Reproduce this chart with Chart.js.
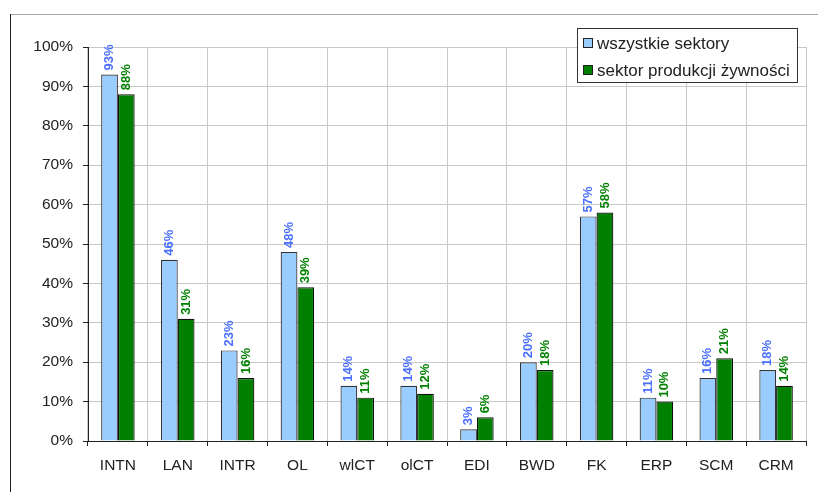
<!DOCTYPE html>
<html>
<head>
<meta charset="utf-8">
<script src="https://cdn.jsdelivr.net/npm/chart.js@4"></script>
<style>
body { margin:0; background:#fff; }
#wrap { width:818px; height:492px; }
</style>
</head>
<body>
<div id="wrap"><canvas id="chart" width="818" height="492"></canvas></div>
<script>
// ------------------------------
// Data
// ------------------------------
const categories = ["INTN","LAN","INTR","OL","wlCT","olCT","EDI","BWD","FK","ERP","SCM","CRM"];
const allSectors = [93,46,23,48,14,14,3,20,57,11,16,18];
const foodSector = [88,31,16,39,11,12,6,18,58,10,21,14];
const seriesNames = ["wszystkie sektory","sektor produkcji żywności"];
const yTicks = [0,10,20,30,40,50,60,70,80,90,100];

const fillColors = ["#99ccff","#008000"];
const labelColors = ["#4a6fff","#008000"];
const FONT = "'Liberation Sans', Arial, sans-serif";

// frame around the whole chart
const framePlugin = {
  id:"frame",
  beforeDraw(chart){
    const c = chart.ctx;
    c.save();
    c.strokeStyle = "#a6a6a6";
    c.lineWidth = 1;
    c.beginPath();
    c.moveTo(10, 14.5);
    c.lineTo(818, 14.5);
    c.stroke();
    c.strokeStyle = "#222";
    c.beginPath();
    c.moveTo(10.5, 14);
    c.lineTo(10.5, 492);
    c.stroke();
    c.restore();
  }
};

// rotated value labels above bars
const labelPlugin = {
  id:"valueLabels",
  afterDatasetsDraw(chart){
    const c = chart.ctx;
    c.save();
    c.font = "bold 13px " + FONT;
    c.textAlign = "left";
    c.textBaseline = "middle";
    chart.data.datasets.forEach((ds, i) => {
      chart.getDatasetMeta(i).data.forEach((bar, j) => {
        c.save();
        c.translate(bar.x, bar.y - 4);
        c.rotate(-Math.PI / 2);
        c.fillStyle = labelColors[i];
        c.fillText(ds.data[j] + "%", 0, 0);
        c.restore();
      });
    });
    c.restore();
  }
};

// legend box drawn over the plot, top right
const legendPlugin = {
  id:"boxLegend",
  afterDraw(chart){
    const c = chart.ctx;
    const x = 577.5, y = 28.5, w = 220, h = 54;
    c.save();
    c.fillStyle = "#fff";
    c.fillRect(x, y, w, h);
    c.strokeStyle = "#333";
    c.lineWidth = 1;
    c.strokeRect(x, y, w, h);
    c.font = "17px " + FONT;
    c.textBaseline = "middle";
    seriesNames.forEach((name, i) => {
      const ty = 43 + i * 27;
      c.fillStyle = fillColors[i];
      c.fillRect(583.5, ty - 4.5, 9, 9);
      c.strokeStyle = "#222";
      c.strokeRect(583.5, ty - 4.5, 9, 9);
      c.fillStyle = "#222";
      c.fillText(name, 597, ty + 1);
    });
    c.restore();
  }
};

new Chart(document.getElementById("chart"), {
  type:"bar",
  data:{
    labels:categories,
    datasets:[
      {
        label:seriesNames[0],
        data:allSectors,
        backgroundColor:fillColors[0],
        borderColor:"#333",
        borderWidth:1.2
      },
      {
        label:seriesNames[1],
        data:foodSector,
        backgroundColor:fillColors[1],
        borderColor:"#111",
        borderWidth:1.2
      }
    ]
  },
  options:{
    responsive:false,
    animation:false,
    layout:{ padding:{ left:0, top:47, right:12, bottom:0 } },
    categoryPercentage:0.56,
    barPercentage:1,
    plugins:{
      legend:{ display:false },
      tooltip:{ enabled:false }
    },
    scales:{
      x:{
        afterFit(axis){ axis.height = 51; },
        grid:{ color:"#c8c8c8", lineWidth:1, tickColor:"#222", tickLength:5, offset:true },
        border:{ color:"#222", width:1 },
        ticks:{ color:"#222", font:{ family:FONT, size:15.5 }, padding:10, maxRotation:0 }
      },
      y:{
        min:0,
        max:100,
        afterFit(axis){ axis.width = 88; },
        afterBuildTicks(axis){ axis.ticks = yTicks.map(v => ({ value:v })); },
        grid:{ color:"#c8c8c8", lineWidth:1, tickColor:"#222", tickLength:5 },
        border:{ color:"#222", width:1 },
        ticks:{
          color:"#222",
          font:{ family:FONT, size:15.5 },
          padding:10,
          callback:v => v + "%"
        }
      }
    }
  },
  plugins:[framePlugin, labelPlugin, legendPlugin]
});
</script>
</body>
</html>
